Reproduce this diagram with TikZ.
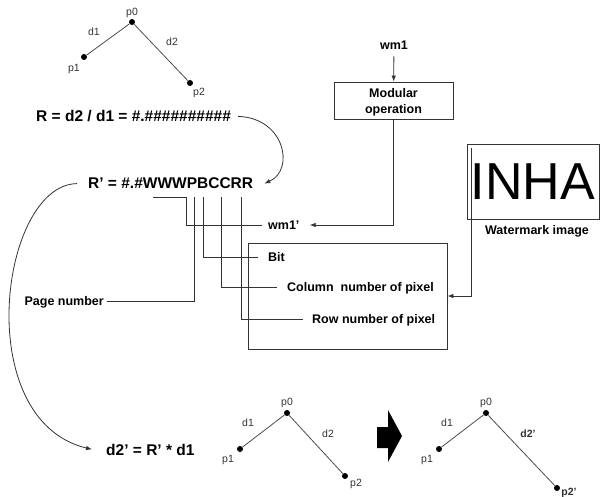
\documentclass[tikz,border=0pt]{standalone}
\usepackage{fontspec}
\setmainfont{Liberation Sans}
\usetikzlibrary{arrows.meta}

\tikzset{
  wire/.style={draw=black!80, line width=0.8pt},
  box/.style={draw=black!80, line width=0.8pt, inner sep=0pt},
  eqn/.style={font=\fontsize{15.5}{18}\selectfont\bfseries, inner sep=0pt, text depth=0pt},
  lbl/.style={font=\fontsize{12.5}{16}\selectfont\bfseries, inner sep=0pt, text depth=0pt},
  ptlbl/.style={font=\fontsize{10.5}{12}\selectfont, text=black!80, inner sep=0pt},
  dot/.style={circle, fill=black, inner sep=0pt, minimum size=6pt},
  edge/.style={draw=black!70, line width=0.8pt},
}

\begin{document}
\begin{tikzpicture}[x=1pt, y=-1pt, >={Latex[length=6pt,width=4.5pt]}]
\useasboundingbox (0,0) rectangle (602,497);

% original triangle
\node[dot] (a0) at (132,22) {};
\node[dot] (a1) at (84,57) {};
\node[dot] (a2) at (190,83) {};
\draw[edge] (a1) -- (a0) -- (a2);
\node[ptlbl] (a0l) at (132,13) {p0};
\node[ptlbl] (a1l) at (74,69) {p1};
\node[ptlbl] (a2l) at (199,93) {p2};
\node[ptlbl] (ad1) at (94,32) {d1};
\node[ptlbl] (ad2) at (172,42) {d2};

% ratio
\node[eqn, anchor=base west] (rr) at (36,122) {R = d2 / d1 = \#.\#\#\#\#\#\#\#\#\#\#};
\node[eqn, anchor=base west] (rp) at (88,189) {R' = \#.\#WWWPBCCRR};
\draw[wire,->] ([xshift=7pt]rr.east) .. controls (285,118) and (295,170) .. ([xshift=11pt]rp.east);

% watermark part
\node[lbl] (wm1) at (394,45) {wm1};
\node[box, lbl, align=center, minimum width=119pt, minimum height=37pt] (modop) at (393.5,100.5) {Modular\\operation};
\draw[wire,->, shorten <=7pt] (wm1) -- (modop);

\node[box, minimum width=132pt, minimum height=75pt, font=\fontsize{52}{52}\selectfont] (wmimg) at (533,181.5) {INHA};
\node[lbl] (wmlbl) at (537,230) {Watermark image};

\node[box, minimum width=199pt, minimum height=106pt] (pixbox) at (347.5,296) {};

% fields of R'
\node[lbl, anchor=west] (wmp) at (268,225) {wm1'};
\node[lbl, anchor=west] (bit) at (268,257) {Bit};
\node[lbl, anchor=west] (col) at (287,287) {Column~ number of pixel};
\node[lbl, anchor=west] (row) at (312,319) {Row number of pixel};
\node[lbl, anchor=east] (page) at (104,301) {Page number};

\coordinate (tw) at (153,197);
\coordinate (tp) at (194,197);
\coordinate (tb) at (203,197);
\coordinate (tc) at (221,197);
\coordinate (tr) at (241,197);
\coordinate (wmtap) at (471,148);

\draw[wire, shorten >=6pt] (tw) -- ++(33,0) |- (wmp.west);
\draw[wire, shorten >=3pt] (tp) |- (page.east);
\draw[wire, shorten >=10pt] (tb) |- (bit.west);
\draw[wire, shorten >=10pt] (tc) |- (col.west);
\draw[wire, shorten >=9pt] (tr) |- (row.west);

\draw[wire,->, shorten >=10pt] (modop.south) |- (wmp.east);
\draw[wire,->] (wmtap) |- (pixbox.east);

% new distance
\node[eqn, anchor=base west] (dp) at (106,455) {d2' = R' * d1};
\draw[wire,->] ([xshift=-11pt]rp.west) .. controls (0,185) and (-30,420) .. ([xshift=-14pt]dp.west);

% triangle before
\node[dot] (b0) at (287,413) {};
\node[dot] (b1) at (240,449) {};
\node[dot] (b2) at (345,476) {};
\draw[edge] (b1) -- (b0) -- (b2);
\node[ptlbl] (b0l) at (287,403) {p0};
\node[ptlbl] (b1l) at (228,460) {p1};
\node[ptlbl] (b2l) at (356,484) {p2};
\node[ptlbl] (bd1) at (248,423) {d1};
\node[ptlbl] (bd2) at (328,434) {d2};

% block arrow
\fill (377,427) -- (388,427) -- (388,410) -- (402,436) -- (388,462) -- (388,448) -- (377,448) -- cycle;

% triangle after
\node[dot] (c0) at (486,413) {};
\node[dot] (c1) at (439,449) {};
\node[dot] (c2) at (557,488) {};
\draw[edge] (c1) -- (c0) -- (c2);
\node[ptlbl] (c0l) at (486,403) {p0};
\node[ptlbl] (c1l) at (427,460) {p1};
\node[ptlbl, font=\fontsize{10.5}{12}\selectfont\bfseries] (c2l) at (569,493) {p2'};
\node[ptlbl] (cd1) at (447,423) {d1};
\node[ptlbl, font=\fontsize{10.5}{12}\selectfont\bfseries] (cd2) at (528,434) {d2'};
\end{tikzpicture}
\end{document}
